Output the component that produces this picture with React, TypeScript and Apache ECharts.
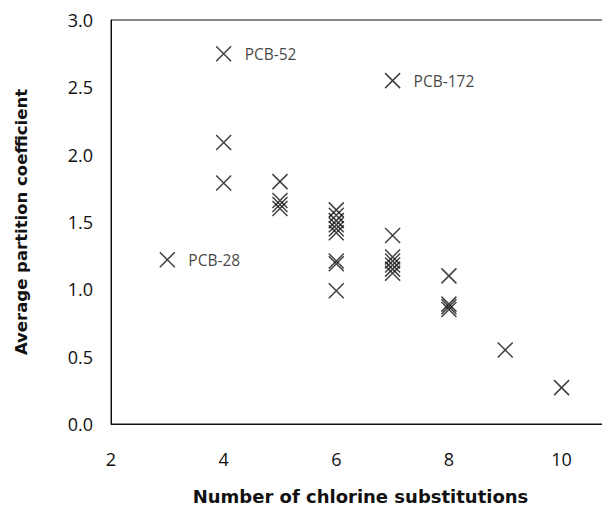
import React, { useEffect, useRef } from "react";
import * as echarts from "echarts";

const xValues = [3, 4, 4, 4, 5, 5, 5, 5, 6, 6, 6, 6, 6, 6, 6, 6, 6, 7, 7, 7, 7, 7, 7, 7, 8, 8, 8, 8, 9, 10];
const yValues = [1.22, 2.75, 2.09, 1.79, 1.80, 1.66, 1.63, 1.60, 1.59, 1.55, 1.51, 1.48, 1.45, 1.42, 1.21, 1.19, 0.99, 2.55, 1.40, 1.24, 1.21, 1.18, 1.15, 1.12, 1.10, 0.89, 0.87, 0.85, 0.55, 0.27];
const pointNames = ["PCB-28", "PCB-52", "", "", "", "", "", "", "", "", "", "", "", "", "", "", "", "PCB-172", "", "", "", "", "", "", "", "", "", "", "", ""];
const xTicks = [2, 4, 6, 8, 10];
const yTicks = [0, 0.5, 1, 1.5, 2, 2.5, 3];

const FONT = "'Open Sans', 'DejaVu Sans', sans-serif";
const TITLE_FONT = "'DejaVu Sans', 'Open Sans', sans-serif";

export default function App() {
  const ref = useRef<HTMLDivElement>(null);
  useEffect(() => {
    if (!ref.current) return;
    const chart = echarts.init(ref.current, null, { renderer: "svg" });
    const data = xValues.map((x, i) => ({
      value: [x, yValues[i]],
      name: pointNames[i],
      label: {
        show: pointNames[i] !== "",
        formatter: pointNames[i],
        position: "right",
        distance: 11,
        color: "#111",
        fontSize: 15.5,
        fontFamily: FONT,
      },
    }));
    chart.setOption({
      animation: false,
      backgroundColor: "#fff",
      grid: {
        left: 103, top: 12, right: 0, bottom: 87,
        outerBoundsMode: "none",
        containLabel: false,
        show: true, borderColor: "#111", borderWidth: 1, backgroundColor: "transparent",
      },
      xAxis: {
        type: "value",
        min: xTicks[0],
        max: 10.86,
        interval: 2,
        name: "Number of chlorine substitutions",
        nameLocation: "middle",
        nameGap: 63,
        nameTextStyle: { fontSize: 18, fontWeight: "bold", fontFamily: TITLE_FONT, color: "#111" },
        axisLine: { show: true, lineStyle: { color: "#111", width: 1 } },
        axisTick: { show: false },
        splitLine: { show: false },
        axisLabel: { fontSize: 18, fontFamily: FONT, color: "#111", margin: 26, showMaxLabel: false },
      },
      yAxis: {
        type: "value",
        min: yTicks[0],
        max: yTicks[yTicks.length - 1],
        interval: 0.5,
        name: "Average partition coefficient",
        nameLocation: "middle",
        nameGap: 81,
        nameTextStyle: { fontSize: 16.5, fontWeight: "bold", fontFamily: TITLE_FONT, color: "#111" },
        axisLine: { show: true, lineStyle: { color: "#111", width: 1 } },
        axisTick: { show: false },
        splitLine: { show: false },
        axisLabel: { fontSize: 18, fontFamily: FONT, color: "#111", margin: 18, formatter: (v: number) => v.toFixed(1) },
      },
      series: [
        {
          type: "scatter",
          symbol: "path://M0,0L10,10M10,0L0,10",
          symbolSize: 15,
          itemStyle: { color: "none", borderColor: "#111", borderWidth: 1.5 },
          data,
        },
      ],
    });
    return () => chart.dispose();
  }, []);
  return <div ref={ref} style={{ width: 602, height: 503 }} />;
}
